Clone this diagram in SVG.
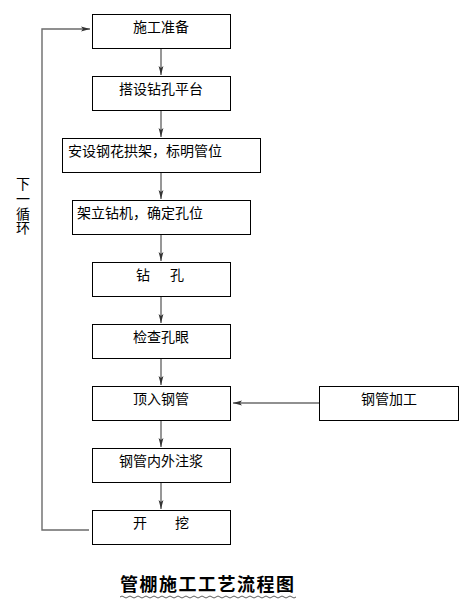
<svg xmlns="http://www.w3.org/2000/svg" width="464" height="605" viewBox="0 0 464 605">
<style>
.box{fill:#fff;stroke:#000;stroke-width:1}
.t{font-family:"Noto Sans CJK SC","Liberation Sans",sans-serif;font-size:14px;fill:#000}
.c{text-anchor:middle}
.ln{fill:none;stroke:#6b6b6b;stroke-width:1.4}
.ti{font-family:"Noto Sans CJK SC",sans-serif;font-size:18px;font-weight:bold;fill:#000;letter-spacing:1.5px}
</style>
<defs>
<marker id="ah" markerWidth="10" markerHeight="6" refX="9" refY="3" orient="auto" markerUnits="userSpaceOnUse">
<path d="M0,0.6 L9,3 L0,5.4 L2,3 Z" fill="#333"/>
</marker>
</defs>
<rect width="464" height="605" fill="#fff"/>
<g id="connectors">
<line class="ln" x1="161" y1="48" x2="161" y2="75" marker-end="url(#ah)"/>
<line class="ln" x1="161" y1="110" x2="161" y2="137" marker-end="url(#ah)"/>
<line class="ln" x1="161" y1="172" x2="161" y2="199" marker-end="url(#ah)"/>
<line class="ln" x1="161" y1="234" x2="161" y2="261" marker-end="url(#ah)"/>
<line class="ln" x1="161" y1="296" x2="161" y2="323" marker-end="url(#ah)"/>
<line class="ln" x1="161" y1="358" x2="161" y2="385" marker-end="url(#ah)"/>
<line class="ln" x1="161" y1="420" x2="161" y2="447" marker-end="url(#ah)"/>
<line class="ln" x1="161" y1="482" x2="161" y2="509" marker-end="url(#ah)"/>
<line class="ln" x1="319" y1="403" x2="233" y2="403" marker-end="url(#ah)"/>
<polyline class="ln" points="89,530 42,530 42,29 90,29" marker-end="url(#ah)"/>
</g>
<g id="n1"><rect class="box" x="92.5" y="14.5" width="138" height="34"/><text class="t c" x="161" y="32">施工准备</text></g>
<g id="n2"><rect class="box" x="92.5" y="76.5" width="138" height="34"/><text class="t c" x="161" y="94">搭设钻孔平台</text></g>
<g id="n3"><rect class="box" x="62.5" y="138.5" width="198" height="34"/><text class="t" x="68" y="156">安设钢花拱架，标明管位</text></g>
<g id="n4"><rect class="box" x="72.5" y="200.5" width="178" height="34"/><text class="t" x="77" y="218">架立钻机，确定孔位</text></g>
<g id="n5"><rect class="box" x="92.5" y="262.5" width="138" height="34"/><text class="t" y="280"><tspan x="136">钻</tspan><tspan x="170">孔</tspan></text></g>
<g id="n6"><rect class="box" x="92.5" y="324.5" width="138" height="34"/><text class="t c" x="161" y="342">检查孔眼</text></g>
<g id="n7"><rect class="box" x="92.5" y="386.5" width="138" height="34"/><text class="t c" x="161" y="404">顶入钢管</text></g>
<g id="n8"><rect class="box" x="319.5" y="386.5" width="139" height="34"/><text class="t c" x="389" y="404">钢管加工</text></g>
<g id="n9"><rect class="box" x="92.5" y="448.5" width="138" height="34"/><text class="t c" x="161" y="466">钢管内外注浆</text></g>
<g id="n10"><rect class="box" x="92.5" y="510.5" width="138" height="34"/><text class="t" y="528"><tspan x="133">开</tspan><tspan x="175">挖</tspan></text></g>
<g id="loop-label"><text class="t" x="23" y="177" style="writing-mode:vertical-rl" letter-spacing="0.7">下一循环</text></g>
<g id="title">
<text class="ti" x="120" y="591">管棚施工工艺流程图</text>
<path d="M120,597 q2,-2 4,0 t4,0 t4,0 t4,0 t4,0 t4,0 t4,0 t4,0 t4,0 t4,0 t4,0 t4,0 t4,0 t4,0 t4,0 t4,0 t4,0 t4,0 t4,0 t4,0 t4,0 t4,0 t4,0 t4,0 t4,0 t4,0 t4,0 t4,0 t4,0 t4,0 t4,0 t4,0 t4,0 t4,0 t4,0 t4,0 t4,0 t4,0 t4,0 t4,0 t4,0 t4,0 t4,0 t4,0" fill="none" stroke="#333" stroke-width="0.8"/>
</g>
</svg>
